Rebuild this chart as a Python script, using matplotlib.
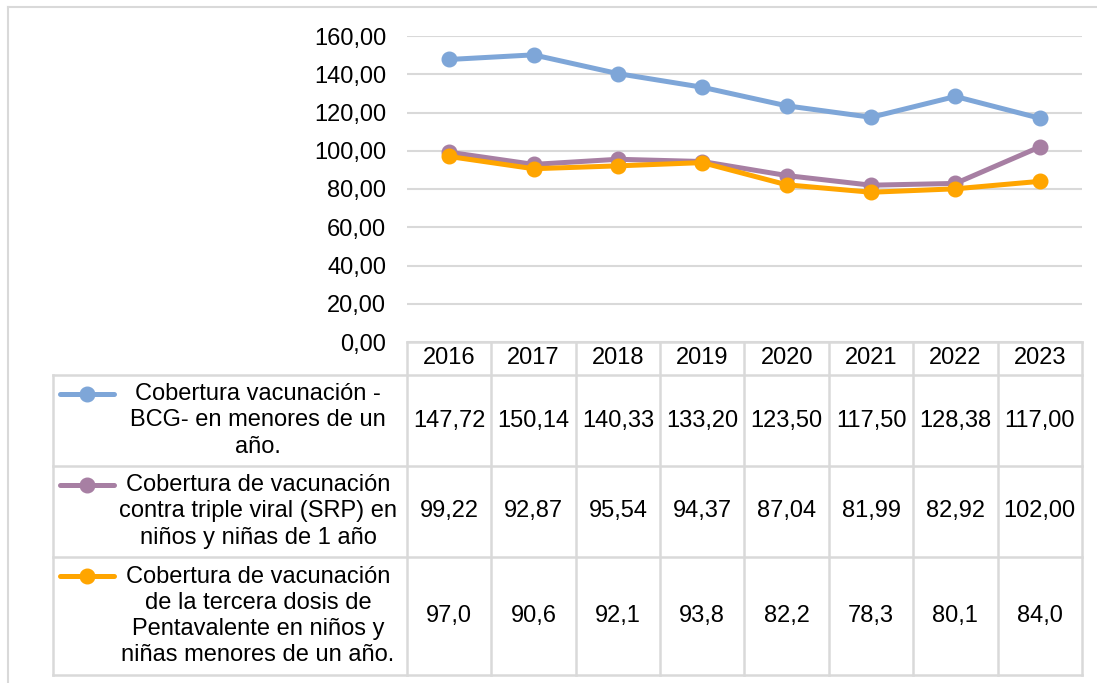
import matplotlib
matplotlib.use('Agg')
import matplotlib.pyplot as plt
from matplotlib.lines import Line2D
from matplotlib.transforms import blended_transform_factory

years = ['2016', '2017', '2018', '2019', '2020', '2021', '2022', '2023']
bcg = [147.72, 150.14, 140.33, 133.20, 123.50, 117.50, 128.38, 117.00]
srp = [99.22, 92.87, 95.54, 94.37, 87.04, 81.99, 82.92, 102.00]
penta = [97.0, 90.6, 92.1, 93.8, 82.2, 78.3, 80.1, 84.0]
series_labels = [
    'Cobertura vacunación -\nBCG- en menores de un\naño.',
    'Cobertura de vacunación\ncontra triple viral (SRP) en\nniños y niñas de 1 año',
    'Cobertura de vacunación\nde la tercera dosis de\nPentavalente en niños y\nniñas menores de un año.',
]
y_ticks = [0, 20, 40, 60, 80, 100, 120, 140, 160]

series = [bcg, srp, penta]
colors = ['#7EA6D8', '#A77FA3', '#FFA500']
decimals = [2, 2, 1]
GRID = '#D9D9D9'
FS = 17

W, H = 1097, 683
plt.rcParams['font.family'] = ['Liberation Sans', 'DejaVu Sans']
fig = plt.figure(figsize=(W / 100, H / 100), dpi=100)


def fx(px):
    return px / W


def fy(py):
    return 1 - py / H


def comma(v, nd):
    return f'{v:.{nd}f}'.replace('.', ',')


ax = fig.add_axes([fx(407), fy(342), fx(1082) - fx(407), fy(36) - fy(342)])
xs = list(range(len(years)))
for vals, c in zip(series, colors):
    ax.plot(xs, vals, color=c, lw=3.6, marker='o', ms=10.5,
            solid_capstyle='round', solid_joinstyle='round', zorder=3, clip_on=False)

ax.set_xlim(-0.5, len(years) - 0.5)
ax.set_ylim(0, 160)
ax.set_yticks(y_ticks)
ax.set_yticklabels([comma(v, 2) for v in y_ticks])
ax.set_xticks([])
ax.tick_params(axis='y', length=0, pad=15, labelsize=FS)
for s in ax.spines.values():
    s.set_visible(False)
ax.grid(axis='y', color=GRID, lw=1.5)
ax.set_axisbelow(True)

# data table below the chart
blend = blended_transform_factory(ax.transData, fig.transFigure)
rows = [342, 375, 466, 557, 675]
lw = 1.8

fig.add_artist(Line2D([fx(407), fx(1082)], [fy(rows[0])] * 2, color=GRID, lw=lw))
for r in rows[1:]:
    fig.add_artist(Line2D([fx(53), fx(1082)], [fy(r)] * 2, color=GRID, lw=lw))
fig.add_artist(Line2D([fx(53), fx(53)], [fy(rows[1]), fy(rows[-1])], color=GRID, lw=lw))
for i in range(len(years) + 1):
    fig.add_artist(Line2D([i - 0.5, i - 0.5], [fy(rows[0]), fy(rows[-1])],
                          transform=blend, color=GRID, lw=lw))

hdr_y = fy((rows[0] + rows[1]) / 2)
for i, yr in enumerate(years):
    fig.text(i, hdr_y, yr, transform=blend, ha='center', va='center', fontsize=FS)

line_px = 27
for k, (vals, c, nd, lab) in enumerate(zip(series, colors, decimals, series_labels)):
    top, bot = rows[k + 1], rows[k + 2]
    cy = (top + bot) / 2
    for i, v in enumerate(vals):
        fig.text(i, fy(cy), comma(v, nd), transform=blend, ha='center', va='center', fontsize=FS)
    fig.text(fx(258), fy(cy), lab, ha='center', va='center', multialignment='center',
             fontsize=FS, linespacing=1.25)
    n = lab.count('\n') + 1
    ky = fy(cy - (n - 1) / 2 * line_px)
    fig.add_artist(Line2D([fx(60), fx(87), fx(114)], [ky] * 3, color=c, lw=3.6,
                          marker='o', ms=10.5, markevery=[1], solid_capstyle='round'))

# outer frame
fig.add_artist(Line2D([fx(8), 1], [fy(7), fy(7)], color=GRID, lw=1.5))
fig.add_artist(Line2D([fx(8), fx(8)], [fy(7), 0], color=GRID, lw=1.5))

fig.savefig('out.png', dpi=100, facecolor='white')
